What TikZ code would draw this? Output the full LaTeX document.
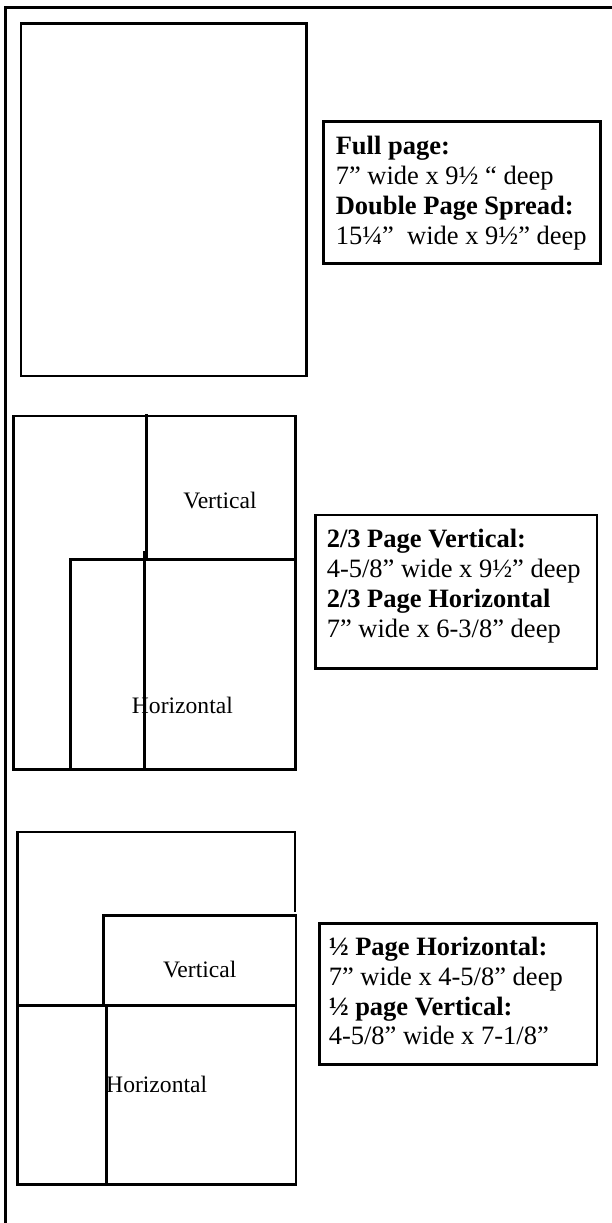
\documentclass[tikz,border=0pt]{standalone}
\usepackage{fontspec}
\setmainfont{Liberation Serif}
\begin{document}
\begin{tikzpicture}[x=1pt,y=-1pt, line width=2.7pt,
  boxtext/.style={anchor=base west, inner sep=0pt, font=\fontsize{26.5}{30}\selectfont},
  boxhead/.style={anchor=base west, inner sep=0pt, font=\fontsize{26.5}{30}\selectfont\bfseries},
  lbl/.style={anchor=base, inner sep=0pt, font=\fontsize{23.6}{27}\selectfont}]
\useasboundingbox (0,0) rectangle (611,1223);
% outer frame
\draw (5.3,1224) -- (5.3,7.3) -- (612,7.3);
% full page
\draw (21,23.3) rectangle (306.5,376);
\draw (323.5,121.7) rectangle (600.5,263.3);
\node[boxhead] (t1a) at (334.4,154.5) {Full page:};
\node[boxtext] (t1b) at (334.4,184.5) {7” wide x 9½ “ deep};
\node[boxhead] (t1c) at (334.4,214.5) {Double Page Spread:};
\node[boxtext] (t1d) at (334.4,244.5) {15¼”~ wide x 9½” deep};
% two-thirds
\draw (13.3,416) rectangle (295.5,769.3);
\draw (146.3,414) -- (146.3,558);
\draw (144.3,551) -- (144.3,769.3);
\draw (70.7,769.3) -- (70.7,559.3) -- (295.5,559.3);
\node[lbl] (v2) at (220,508.5) {Vertical};
\node[lbl] (h2) at (182.4,713) {Horizontal};
\draw (315.5,515) rectangle (597,668.3);
\node[boxhead] (t2a) at (325.4,547.5) {2/3 Page Vertical:};
\node[boxtext] (t2b) at (325.4,577.5) {4-5/8” wide x 9½” deep};
\node[boxhead] (t2c) at (325.4,607.5) {2/3 Page Horizontal};
\node[boxtext] (t2d) at (325.4,637) {7” wide x 6-3/8” deep};
% half
\draw (295,911.7) -- (295,832) -- (17.3,832) -- (17.3,1184.3) -- (296,1184.3) -- (296,915.3) -- (103.7,915.3) -- (103.7,1005.7);
\draw (17.3,1005.7) -- (296,1005.7);
\draw (106.8,1005.7) -- (106.8,1184.3);
\node[lbl] (v3) at (199.7,977) {Vertical};
\node[lbl] (h3) at (156.7,1092) {Horizontal};
\draw (319.6,923.3) rectangle (597,1064.3);
\node[boxhead] (t3a) at (327.4,955.3) {½ Page Horizontal:};
\node[boxtext] (t3b) at (327.4,985.3) {7” wide x 4-5/8” deep};
\node[boxhead] (t3c) at (327.4,1015.3) {½ page Vertical:};
\node[boxtext] (t3d) at (327.4,1044.3) {4-5/8” wide x 7-1/8”};
\end{tikzpicture}
\end{document}
